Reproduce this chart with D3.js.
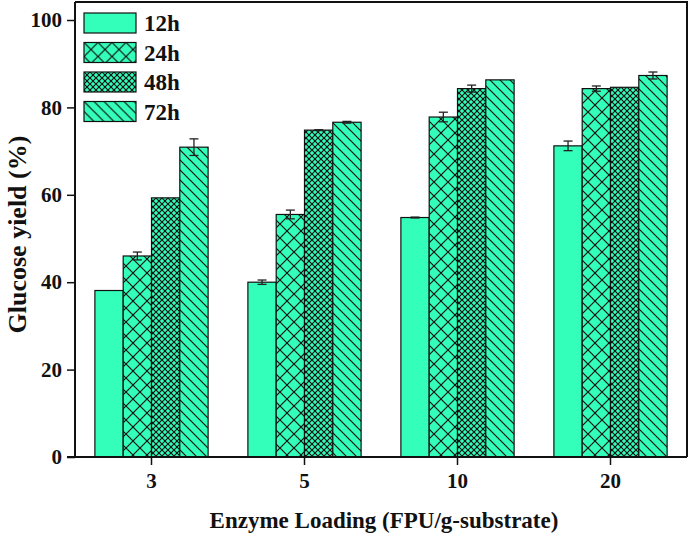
<!DOCTYPE html>
<html>
<head>
<meta charset="utf-8">
<script src="https://cdn.jsdelivr.net/npm/d3@7"></script>
<style>
  body { margin: 0; background: #fff; }
  text { font-family: "Liberation Serif", "Times New Roman", serif; font-weight: bold; fill: #111; }
</style>
</head>
<body>
<svg id="chart"></svg>
<script>
const loads = ["3", "5", "10", "20"];
const series = ["12h", "24h", "48h", "72h"];
const yield12 = [38.1, 40.0, 54.8, 71.2];
const yield24 = [46.0, 55.5, 77.8, 84.3];
const yield48 = [59.3, 74.8, 84.3, 84.6];
const yield72 = [70.9, 76.6, 86.3, 87.3];
const err12 = [0, 0.5, 0.1, 1.1];
const err24 = [0.9, 1.0, 1.1, 0.6];
const err48 = [0, 0.1, 0.8, 0];
const err72 = [1.9, 0.2, 0, 0.8];
const yTicks = [0, 20, 40, 60, 80, 100];

const values = [yield12, yield24, yield48, yield72];
const errors = [err12, err24, err48, err72];
const data = [];
loads.forEach((l, i) => series.forEach((s, j) => {
    data.push({ load: l, series: s, value: values[j][i], err: errors[j][i] });
}));

const W = 698, H = 546;
const left = 75, right = 687, bottom = 457, top100 = 20;
const fillColor = "#33ffbb";

const svg = d3.select("#chart").attr("width", W).attr("height", H);
const defs = svg.append("defs");

function crossPattern(id, size) {
    const p = defs.append("pattern").attr("id", id)
        .attr("patternUnits", "userSpaceOnUse")
        .attr("width", size).attr("height", size);
    p.append("rect").attr("width", size).attr("height", size).attr("fill", fillColor);
    p.append("path")
        .attr("d", `M0,0L${size},${size}M${size},0L0,${size}`)
        .attr("stroke", "#111").attr("stroke-width", 1.2);
}
crossPattern("p24", 14);
crossPattern("p48", 6);
(function () {
    const s = 10;
    const p = defs.append("pattern").attr("id", "p72")
        .attr("patternUnits", "userSpaceOnUse")
        .attr("width", s).attr("height", s);
    p.append("rect").attr("width", s).attr("height", s).attr("fill", fillColor);
    p.append("path")
        .attr("d", `M0,0L${s},${s}M-2,${s - 2}L2,${s + 2}M${s - 2},-2L${s + 2},2`)
        .attr("stroke", "#111").attr("stroke-width", 1.2);
})();

const fills = { "12h": fillColor, "24h": "url(#p24)", "48h": "url(#p48)", "72h": "url(#p72)" };

const x0 = d3.scaleBand().domain(loads).range([left, right]).paddingInner(0.26).paddingOuter(0.13);
const x1 = d3.scaleBand().domain(series).range([0, x0.bandwidth()]);
const y = d3.scaleLinear().domain([0, 100]).range([bottom, top100]);

// bars
svg.append("g").selectAll("rect")
    .data(data)
    .enter().append("rect")
    .attr("x", d => x0(d.load) + x1(d.series))
    .attr("y", d => y(d.value))
    .attr("width", x1.bandwidth())
    .attr("height", d => y(0) - y(d.value))
    .attr("fill", d => fills[d.series])
    .attr("stroke", "#111")
    .attr("stroke-width", 1.2);

// error bars
const eb = svg.append("g").attr("stroke", "#222").attr("stroke-width", 1.3)
    .selectAll("g").data(data.filter(d => d.err > 0)).enter().append("g");
const cx = d => x0(d.load) + x1(d.series) + x1.bandwidth() / 2;
eb.append("line")
    .attr("x1", cx).attr("x2", cx)
    .attr("y1", d => y(d.value + d.err)).attr("y2", d => y(d.value - d.err));
eb.append("line")
    .attr("x1", d => cx(d) - 4.5).attr("x2", d => cx(d) + 4.5)
    .attr("y1", d => y(d.value + d.err)).attr("y2", d => y(d.value + d.err));
eb.append("line")
    .attr("x1", d => cx(d) - 4.5).attr("x2", d => cx(d) + 4.5)
    .attr("y1", d => y(d.value - d.err)).attr("y2", d => y(d.value - d.err));

// frame
const frameTop = y(104.1);
svg.append("path")
    .attr("d", `M${left},${frameTop}L${right},${frameTop}L${right},${bottom}`)
    .attr("fill", "none").attr("stroke", "#111").attr("stroke-width", 2);

// axes
const yAxis = svg.append("g")
    .attr("transform", `translate(${left},0)`)
    .call(d3.axisLeft(y).tickValues(yTicks).tickSize(8).tickPadding(5));
yAxis.select(".domain").attr("d", `M0,${frameTop}V${bottom}`);

const xAxis = svg.append("g")
    .attr("transform", `translate(0,${bottom})`)
    .call(d3.axisBottom(x0).tickSize(8).tickPadding(8));
xAxis.select(".domain").attr("d", `M${left - 8},0H${right}`);

[yAxis, xAxis].forEach(a => {
    a.selectAll(".domain").attr("stroke", "#111").attr("stroke-width", 2);
    a.selectAll(".tick line").attr("stroke", "#111").attr("stroke-width", 1.5);
    a.selectAll("text").attr("font-family", "Liberation Serif")
        .attr("font-weight", "bold").attr("font-size", 21).attr("fill", "#111");
});

// axis titles
svg.append("text")
    .attr("x", (left + right) / 2 + 3).attr("y", 528)
    .attr("text-anchor", "middle").attr("font-size", 23)
    .text("Enzyme Loading (FPU/g-substrate)");
svg.append("text")
    .attr("transform", `translate(26,${(frameTop + bottom) / 2 + 5}) rotate(-90)`)
    .attr("text-anchor", "middle").attr("font-size", 26)
    .text("Glucose yield (%)");

// legend
const legend = svg.append("g").selectAll("g")
    .data(series).enter().append("g")
    .attr("transform", (d, i) => `translate(84,${13 + i * 29.5})`);
legend.append("rect")
    .attr("width", 52).attr("height", 20)
    .attr("fill", d => fills[d])
    .attr("stroke", "#111").attr("stroke-width", 1.2);
legend.append("text")
    .attr("x", 60).attr("y", 18)
    .attr("font-size", 23)
    .text(d => d);
</script>
</body>
</html>
